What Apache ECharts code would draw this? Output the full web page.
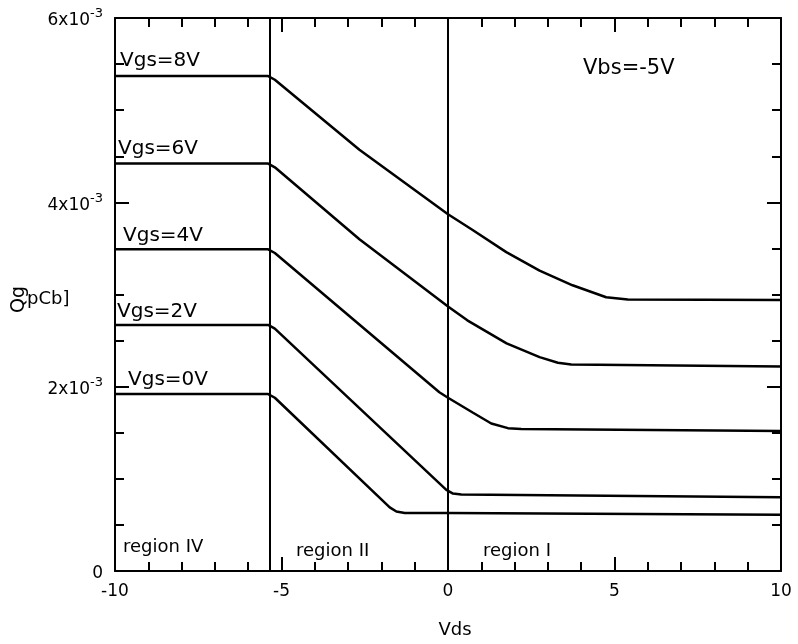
<!DOCTYPE html>
<html><head><meta charset="utf-8">
<script src="https://cdn.jsdelivr.net/npm/echarts@6/dist/echarts.min.js"></script>
<style>html,body{margin:0;padding:0;background:#fff}#c{width:798px;height:644px}</style>
</head><body><div id="c"></div>
<script>
// Vds values (x) and Qg values in units of 1e-3 pCb for each Vgs curve
const vgs8 = [[-10,5.37],[-5.4,5.37],[-5.2,5.33],[-2.66,4.57],[0,3.87],[0.74,3.70],[1.75,3.46],[2.75,3.26],[3.74,3.10],[4.75,2.97],[5.4,2.945],[10,2.94]];
const vgs6 = [[-10,4.42],[-5.4,4.42],[-5.2,4.38],[-2.66,3.60],[0,2.87],[0.58,2.72],[1.76,2.47],[2.75,2.32],[3.3,2.26],[3.7,2.24],[10,2.22]];
const vgs4 = [[-10,3.49],[-5.4,3.49],[-5.2,3.45],[-0.26,1.94],[0,1.88],[0.74,1.72],[1.3,1.60],[1.8,1.55],[2.2,1.54],[10,1.52]];
const vgs2 = [[-10,2.67],[-5.4,2.67],[-5.2,2.63],[-0.05,0.88],[0.15,0.84],[0.4,0.83],[10,0.80]];
const vgs0 = [[-10,1.92],[-5.4,1.92],[-5.2,1.88],[-1.75,0.69],[-1.55,0.645],[-1.3,0.63],[0,0.63],[10,0.61]];
const curves = [vgs8, vgs6, vgs4, vgs2, vgs0];
const curveNames = ['Vgs=8V','Vgs=6V','Vgs=4V','Vgs=2V','Vgs=0V'];
const regionBounds = [-5.35, 0];
const xTicks = [-10,-5,0,5,10];
const yTicks = [0,2,4,6];

const chart = echarts.init(document.getElementById('c'));
const FONT = '"DejaVu Sans", Verdana, sans-serif';
function common(split){
  return {
    axisLine:{show:true,onZero:false,lineStyle:{color:'#000',width:2}},
    axisTick:{show:true,inside:true,length:14,lineStyle:{color:'#000',width:2}},
    minorTick:{show:true,splitNumber:split,length:9,lineStyle:{color:'#000',width:2}},
    splitLine:{show:false}, minorSplitLine:{show:false}
  };
}
function xAx(pos, showLabel){
  return Object.assign({type:'value',position:pos,min:xTicks[0],max:xTicks[xTicks.length-1],interval:5,
    axisLabel:{show:showLabel,color:'#000',fontFamily:FONT,fontSize:17,margin:12},
    name: showLabel?'Vds':'', nameLocation:'middle', nameGap:50,
    nameTextStyle:{color:'#000',fontFamily:FONT,fontSize:18,padding:[0,0,0,14]}}, common(5));
}
function yAx(pos, showLabel){
  return Object.assign({type:'value',position:pos,min:yTicks[0],max:yTicks[yTicks.length-1],interval:2,
    axisLabel:{show:showLabel,color:'#000',fontFamily:FONT,fontSize:17,margin:12,
      formatter:v=> v===0 ? '{b|0}' : '{b|'+v+'x10}{s|-3}',
      rich:{b:{fontFamily:FONT,fontSize:17,color:'#000',padding:[6,0,0,0]},s:{fontFamily:FONT,fontSize:13,color:'#000',padding:[0,0,8,0]}}}},
    common(4));
}
const series = curves.map((d,i)=>({
  type:'line', name:curveNames[i], data:d, showSymbol:false, smooth:false,
  lineStyle:{color:'#000',width:2.5}, xAxisIndex:0, yAxisIndex:0
}));
series[0].markLine = {silent:true,symbol:['none','none'],label:{show:false},
  lineStyle:{color:'#000',width:2,type:'solid'},
  data: regionBounds.map(v=>({xAxis:v}))};

const txt = (x,y,t,size)=>({type:'text',left:x,top:y,style:{text:t,fill:'#000',font:(size||20)+'px '+FONT}});
chart.setOption({
  animation:false,
  backgroundColor:'#fff',
  grid:{left:115,right:17,top:18,bottom:73},
  xAxis:[xAx('bottom',true), xAx('top',false)],
  yAxis:[yAx('left',true), yAx('right',false)],
  series:series,
  graphic:[
    txt(120,51,'Vgs=8V'), txt(118,139,'Vgs=6V'), txt(123,226,'Vgs=4V'),
    txt(117,302,'Vgs=2V'), txt(128,370,'Vgs=0V'),
    txt(583,58,'Vbs=-5V',21),
    txt(123,538,'region IV',18), txt(296,542,'region II',18), txt(483,542,'region I',18),
    {type:'text',x:10,y:313,rotation:Math.PI/2,style:{text:'Qg',fill:'#000',font:'19px '+FONT}},
    txt(27,290,'pCb]',18)
  ]
});
</script></body></html>
